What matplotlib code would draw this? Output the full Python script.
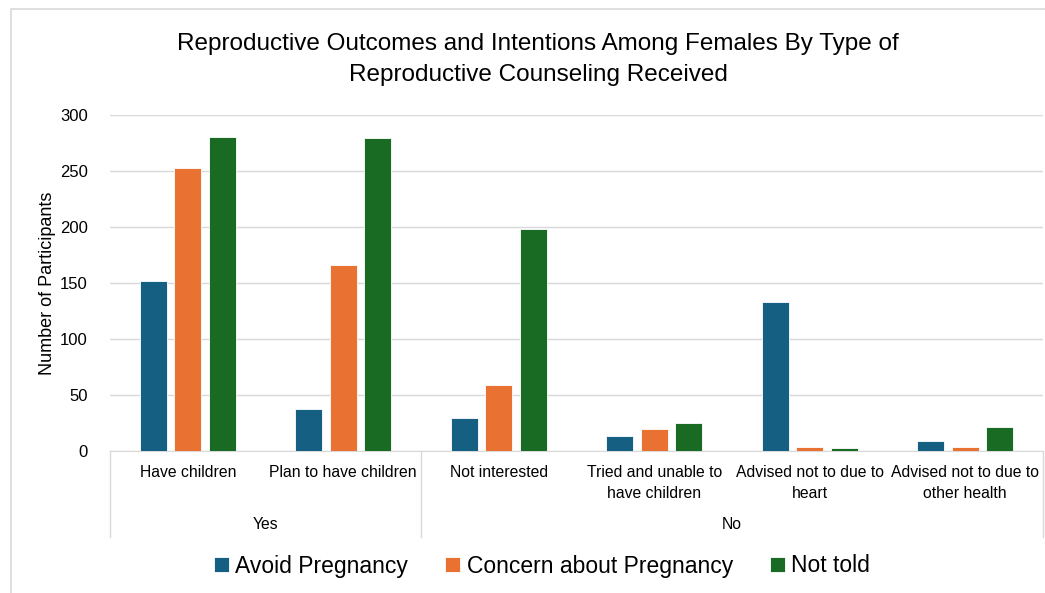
import numpy as np
import matplotlib
matplotlib.use("Agg")
import matplotlib.pyplot as plt
from matplotlib.patches import Rectangle
from matplotlib.lines import Line2D

# data
categories = ["Have children", "Plan to have children", "Not interested",
              "Tried and unable to\nhave children", "Advised not to due to\nheart",
              "Advised not to due to\nother health"]
groups = ["Yes", "No"]
group_sizes = [2, 4]
series = ["Avoid Pregnancy", "Concern about Pregnancy", "Not told"]
avoid = [152, 37, 29, 13, 133, 9]
concern = [253, 166, 59, 19, 3, 3]
not_told = [281, 280, 198, 25, 2, 21]
colors = ["#156082", "#E97132", "#196B24"]

font = ["Liberation Sans", "DejaVu Sans"]

fig = plt.figure(figsize=(10.45, 5.93), dpi=100)
ax = fig.add_axes([110/1045, 1-450.7/593, 933/1045, 335.4/593])

x = np.arange(len(categories))
w = 0.173
step = 0.222
for i, (vals, c) in enumerate(zip([avoid, concern, not_told], colors)):
    ax.bar(x + (i-1)*step, vals, width=w, color=c, edgecolor="white",
           linewidth=0.6, label=series[i], zorder=3)

ax.set_xlim(-0.5, len(categories)-0.5)
ax.set_ylim(0, 300)
ax.set_yticks(range(0, 301, 50))
ax.set_yticklabels([str(v) for v in range(0, 301, 50)], family=font, fontsize=12)
ax.tick_params(axis="y", length=0, pad=16)
ax.set_xticks([])
ax.grid(axis="y", color="#d9d9d9", linewidth=1.0, zorder=0)
for s in ["top", "right", "left"]:
    ax.spines[s].set_visible(False)
ax.spines["bottom"].set_color("#d9d9d9")
ax.set_ylabel("Number of Participants", family=font, fontsize=13, labelpad=3)

# multi-level category axis
tr = ax.get_xaxis_transform()
for xi, lab in zip(x, categories):
    ax.text(xi, -0.044, lab, transform=tr, ha="center", va="top",
            family=font, fontsize=11.3, linespacing=1.5)
edges = np.concatenate([[0], np.cumsum(group_sizes)]) - 0.5
for e in edges:
    ax.add_line(Line2D([e, e], [0, -0.2575], transform=tr, color="#d9d9d9",
                       linewidth=1.0, clip_on=False))
for g, a, b in zip(groups, edges[:-1], edges[1:]):
    ax.text((a+b)/2, -0.2195, g, transform=tr, ha="center", va="center",
            family=font, fontsize=11.3)

fig.suptitle("Reproductive Outcomes and Intentions Among Females By Type of\nReproductive Counseling Received",
             x=538/1045, y=1-33/593, va="top", family=font, fontsize=17.5, linespacing=1.5)

fig.legend(loc="center", bbox_to_anchor=(542/1045, 1-566/593), ncol=3, frameon=False,
           prop={"family": font, "size": 16.5}, handlelength=0.65, handleheight=0.65,
           handletextpad=0.3, columnspacing=1.6)

# chart area border
fig.patches.append(Rectangle((11/1045, -0.1), 1.2, 1-9/593+0.1, transform=fig.transFigure,
                             fill=False, edgecolor="#d9d9d9", linewidth=1.2))

fig.savefig("out.png", dpi=100)
